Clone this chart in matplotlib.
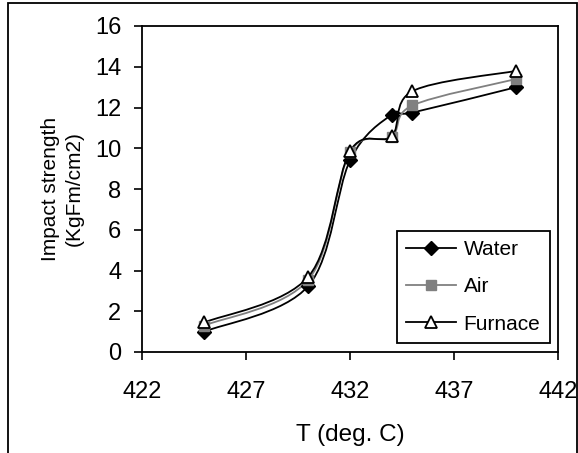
import numpy as np
import matplotlib
matplotlib.use('Agg')
import matplotlib.pyplot as plt
from matplotlib.path import Path
from matplotlib.patches import PathPatch, Rectangle
from matplotlib.lines import Line2D

plt.rcParams['font.family'] = ['Liberation Sans', 'DejaVu Sans']

# data
temps = [425, 430, 432, 434, 435, 440]
water = [1.0, 3.25, 9.4, 11.65, 11.75, 13.0]
air = [1.3, 3.55, 9.8, 10.55, 12.1, 13.4]
furnace = [1.45, 3.7, 9.85, 10.6, 12.8, 13.8]

names = ['Water', 'Air', 'Furnace']
xticks = [422, 427, 432, 437, 442]
yticks = list(range(0, 17, 2))


def smooth_path(x, y):
    # Excel style smoothed line: bezier segments with catmull-rom control points
    pts = np.column_stack([x, y]).astype(float)
    n = len(pts)
    verts = [pts[0]]
    codes = [Path.MOVETO]
    for i in range(n - 1):
        p0 = pts[i - 1] if i > 0 else pts[i]
        p1 = pts[i]
        p2 = pts[i + 1]
        p3 = pts[i + 2] if i + 2 < n else pts[i + 1]
        verts += [p1 + (p2 - p0) / 6, p2 - (p3 - p1) / 6, p2]
        codes += [Path.CURVE4] * 3
    return Path(verts, codes)


fig = plt.figure(figsize=(5.78, 4.53), dpi=100)
ax = fig.add_axes([142 / 578, 1 - 352 / 453, 416 / 578, 326 / 453])

styles = [
    dict(color='black', marker='D', ms=7.5, mfc='black', mec='black'),
    dict(color='#808080', marker='s', ms=7, mfc='#808080', mec='#808080'),
    dict(color='black', marker='^', ms=8.5, mfc='white', mec='black', mew=1.3),
]
handles = []
for vals, name, st in zip([water, air, furnace], names, styles):
    ax.add_patch(PathPatch(smooth_path(temps, vals), fill=False,
                           edgecolor=st['color'], lw=1.3, zorder=2))
    ax.plot(temps, vals, ls='none', marker=st['marker'], ms=st['ms'],
            mfc=st['mfc'], mec=st['mec'], mew=st.get('mew', 1), zorder=3)
    handles.append(Line2D([], [], color=st['color'], lw=1.3, marker=st['marker'],
                          ms=st['ms'], mfc=st['mfc'], mec=st['mec'],
                          mew=st.get('mew', 1), label=name))

ax.set_xlim(422, 442)
ax.set_ylim(0, 16)
ax.set_xticks(xticks)
ax.set_yticks(yticks)
ax.tick_params(direction='out', length=6, width=1.2, labelsize=17, colors='black')
ax.tick_params(axis='y', pad=9)
ax.tick_params(axis='x', pad=15)
for s in ax.spines.values():
    s.set_linewidth(1.3)
    s.set_color('black')

ax.set_xlabel('T (deg. C)', fontsize=17.5, labelpad=15)
ax.set_ylabel('Impact strength\n(KgFm/cm2)', fontsize=15, labelpad=8, linespacing=1.3)

leg = ax.legend(handles=handles, loc='upper left',
                bbox_to_anchor=(397 / 578, 1 - 231 / 453),
                bbox_transform=fig.transFigure, fontsize=15, fancybox=False,
                edgecolor='black', framealpha=1, borderaxespad=0,
                borderpad=0.45, handlelength=2.4, handletextpad=0.35,
                labelspacing=0.87, numpoints=1)
leg.get_frame().set_linewidth(1.3)

# outer chart border
fig.patches.append(Rectangle((7.5 / 578, -0.02), 569 / 578, 1.02 - 3.5 / 453,
                             transform=fig.transFigure, fill=False,
                             edgecolor='black', lw=1.3))

fig.savefig('out.png', dpi=100)
